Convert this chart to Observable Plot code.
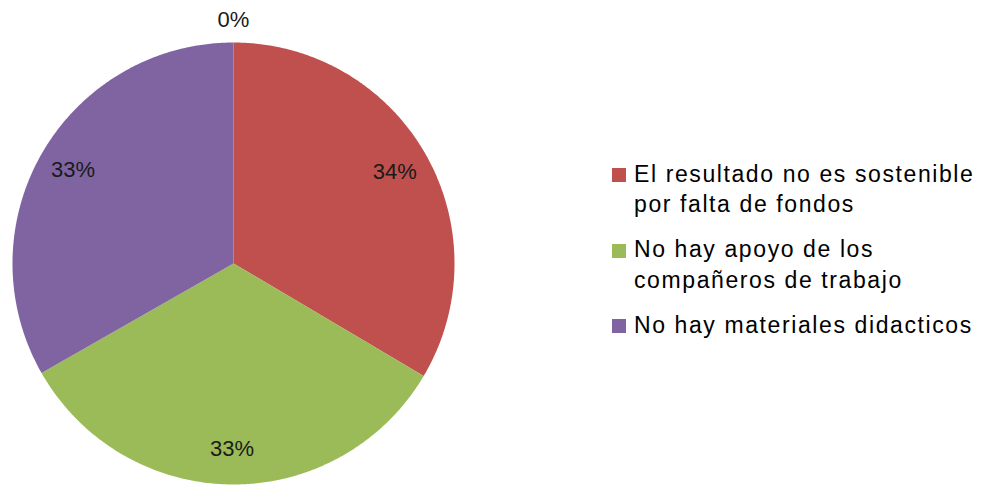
<!DOCTYPE html>
<html>
<head>
<meta charset="utf-8">
<script src="https://cdn.jsdelivr.net/npm/d3@7"></script>
<script src="https://cdn.jsdelivr.net/npm/@observablehq/plot@0.6"></script>
<style>
  html, body { margin: 0; padding: 0; background: #fff; }
  #wrap { position: relative; width: 985px; height: 485px; overflow: hidden; }
  #legend { position: absolute; left: 612px; top: 158.5px; font-family: "Liberation Sans", Arial, sans-serif; font-size: 23px; line-height: 30.5px; letter-spacing: 1.6px; color: #000; }
  .item { position: relative; padding-left: 22px; width: 362px; margin-bottom: 14.5px; }
  .sw { position: absolute; left: 0; top: 9.5px; width: 14px; height: 14px; }
</style>
</head>
<body>
<div id="wrap"><div id="chart"></div><div id="legend"></div></div>
<script>
const categories = ["", "El resultado no es sostenible por falta de fondos", "No hay apoyo de los compañeros de trabajo", "No hay materiales didacticos"];
const values = [0, 33.5, 33.25, 33.25];
const colors = ["#4F81BD", "#C0504D", "#9BBB59", "#8064A2"];

const rows = categories.map((c, i) => ({cat: i, name: c, value: values[i]}));
const total = d3.sum(values);
const arcs = d3.pie().sort(null).value(d => d.value).startAngle(0).endAngle(2 * Math.PI)(rows);

// polygon vertices for each slice (unit circle, clockwise from top)
const poly = [];
for (const a of arcs) {
  if (a.endAngle - a.startAngle <= 0) continue;
  const n = Math.max(2, Math.ceil((a.endAngle - a.startAngle) / (Math.PI / 360)));
  poly.push({cat: a.data.cat, x: 0, y: 0});
  for (let k = 0; k <= n; k++) {
    const t = a.startAngle + (a.endAngle - a.startAngle) * k / n;
    poly.push({cat: a.data.cat, x: Math.sin(t), y: Math.cos(t)});
  }
}

const labelData = arcs.map(a => {
  const mid = (a.startAngle + a.endAngle) / 2;
  const r = a.data.value > 0 ? 0.84 : 1.1;
  return {x: Math.sin(mid) * r, y: Math.cos(mid) * r, text: Math.round(a.data.value / total * 100) + "%"};
});

const chart = Plot.plot({
  width: 985,
  height: 485,
  margin: 0,
  x: {domain: [-1, 1], range: [12, 454], axis: null},
  y: {domain: [-1, 1], range: [484, 42], axis: null},
  color: {domain: categories.map((c, i) => i), range: colors},
  style: {background: "#fff", overflow: "visible"},
  marks: [
    Plot.line(poly, {x: "x", y: "y", z: "cat", fill: "cat", stroke: "none", curve: "linear-closed"}),
    Plot.text(labelData, {x: "x", y: "y", text: "text", fontSize: 22, fill: "#1a1a1a", fontFamily: "Liberation Sans, Arial, sans-serif"})
  ]
});
document.getElementById("chart").appendChild(chart);

const legend = d3.select("#legend");
rows.filter(d => d.value > 0).forEach(d => {
  const item = legend.append("div").attr("class", "item");
  item.append("span").attr("class", "sw").style("background", colors[d.cat]);
  item.append("span").text(d.name);
});
</script>
</body>
</html>
